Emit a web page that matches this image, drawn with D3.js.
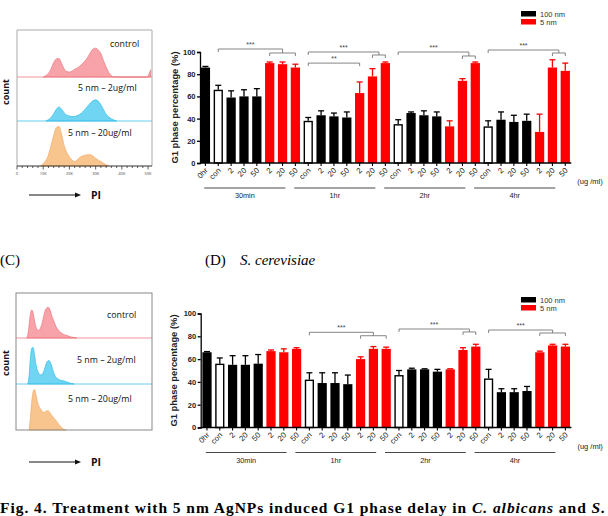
<!DOCTYPE html>
<html>
<head>
<meta charset="utf-8">
<script src="https://d3js.org/d3.v7.min.js"></script>
<style>
body { margin: 0; background: #fff; }
svg { display: block; }
.ax text { font-family: "Liberation Sans", Arial, sans-serif; }
</style>
</head>
<body>
<div id="fig"></div>
<script>

///////////////////////////////
//////  data  /////////////////
///////////////////////////////

// x tick labels for the 29 bars
var slotLabels = ["0hr",
  "con","2","20","50","2","20","50",
  "con","2","20","50","2","20","50",
  "con","2","20","50","2","20","50",
  "con","2","20","50","2","20","50"];
// kind of bar: z = 0hr, c = control (open), b = 100 nm, r = 5 nm
var slotKind = ["z",
  "c","b","b","b","r","r","r",
  "c","b","b","b","r","r","r",
  "c","b","b","b","r","r","r",
  "c","b","b","b","r","r","r"];
var groups = ["30min", "1hr", "2hr", "4hr"];
var groupFirst = [1, 8, 15, 22];
var groupLast = [7, 14, 21, 28];
var legendLabels = ["100 nm", "5 nm"];
var yTicks = [0, 20, 40, 60, 80, 100];

// (C) C. albicans, G1 phase %
var albMean = [86, 66,59,60,60, 90,89,86, 38,43,42,41, 63,78,90, 35,45,43,42, 33,74,90, 33,39,37,38, 28,86,83];
var albErr  = [1, 4,6,6,7, 1,2,3, 3,4,3,5, 10,7,1, 4,1,4,4, 5,2,1, 5,7,6,6, 16,7,7];
// (D) S. cerevisiae, G1 phase %
var cerMean = [66, 56,55,55,56, 67,66,69, 42,39,39,38, 60,69,69, 46,51,51,49, 51,68,71, 43,31,31,32, 66,72,71];
var cerErr  = [0.6, 5,8,8,8, 1,3,1, 6,9,9,8, 2,2,1.5, 4,1,0.5,2, 0.5,2,2, 8,3,3,4, 1,1,2];

// significance brackets: from bar, to sub-bracket bars a..b, levels in %
var albBrackets = [
  {from: 1, a: 5, b: 7, yBig: 102.7, ySmall: 99.1, label: "***"},
  {from: 8, a: 13, b: 14, yBig: 100, ySmall: 97.3, label: "***"},
  {from: 15, a: 20, b: 21, yBig: 100, ySmall: 96.4, label: "***"},
  {from: 22, a: 27, b: 28, yBig: 101.8, ySmall: 99.1, label: "***"}
];
var albSimple = [{from: 8, to: 12, y: 90, label: "**"}];
var cerBrackets = [
  {from: 8, a: 12, b: 14, yBig: 83.5, ySmall: 80.5, label: "***"},
  {from: 15, a: 20, b: 21, yBig: 86.4, ySmall: 83.8, label: "***"},
  {from: 22, a: 26, b: 28, yBig: 85.5, ySmall: 82.9, label: "***"}
];

// flow cytometry histograms, [PI (K), count]
var histLabels = ["control", "5 nm \u2013 2ug/ml", "5 nm \u2013 20ug/ml"];
var flowTicks = [0, 10, 20, 30, 40, 50];
var albControl = [[10,0],[11,3],[12,8],[13,18],[14,32],[15,40],[16,41],[17,30],[18,18],[19,12],[20,11],
  [21,13],[22,17],[23,20],[24,24],[25,30],[26,36],[27,44],[28,54],[29,62],[30,64],[31,60],[32,52],
  [33,36],[34,22],[35,10],[36,3],[37,0],[49.6,0],[50.3,6],[51,16]];
var alb2 = [[11,0],[12,3],[13,8],[14,16],[15,26],[16,31],[17,26],[18,18],[19,13],[20,11],[21,10],
  [22,10],[23,12],[24,15],[25,20],[26,26],[27,33],[28,40],[29,45],[30,47],[31,44],[32,36],[33,25],
  [34,15],[35,9],[36,5],[37,2],[38,0]];
var alb20 = [[9,0],[10,5],[11,12],[12,25],[13,45],[14,68],[15,85],[16,88],[17,70],[18,45],[19,30],
  [20,20],[21,13],[22,10],[23,14],[24,19],[25,22],[26,24],[27,25],[28,25],[29,22],[30,17],[31,13],
  [32,10],[33,6],[34,3],[35,0]];
var cerControl = [[4,0],[4.5,8],[5,30],[5.5,55],[6,62],[6.5,55],[7,38],[7.5,25],[8,19],[8.5,17],[9,19],
  [9.5,25],[10,35],[10.5,48],[11,60],[11.5,66],[12,68],[12.5,67],[13,60],[13.5,50],[14,42],[14.5,35],
  [15,27],[16,18],[17,12],[18,8],[19,6],[20,4],[21,2],[22,1],[23,0]];
var cer2 = [[4.5,0],[5,20],[5.5,60],[6,80],[6.5,81],[7,65],[7.5,45],[8,32],[8.5,25],[9,21],[9.5,20],
  [10,22],[10.5,28],[11,37],[11.5,46],[12,51],[12.5,52],[13,48],[13.5,40],[14,30],[14.5,22],[15,16],
  [16,11],[17,8],[18,7],[19,5],[20,3],[21,1],[22,0]];
var cer20 = [[5,0],[5.5,30],[6,65],[6.5,85],[7,90],[7.5,80],[8,65],[8.5,55],[9,49],[9.5,45],[10,41],
  [10.5,39],[11,40],[11.5,42],[12,43],[12.5,41],[13,37],[13.5,33],[14,29],[14.5,25],[15,22],[16,14],
  [17,7],[18,2],[19,0]];

///////////////////////////////
//////  setup  ////////////////
///////////////////////////////

var width = 608, height = 516;
var svg = d3.select("#fig").append("svg").attr("width", width).attr("height", height);
svg.append("rect").attr("width", width).attr("height", height).attr("fill", "#fff");

var sans = "'Liberation Sans', Arial, sans-serif";
var serif = "'Liberation Serif', 'Times New Roman', serif";
var flowFont = "'Open Sans', 'Noto Sans', sans-serif";
var red = "#ff0000";

///////////////////////////////
//////  bar charts  ///////////
///////////////////////////////

function barChart(opt) {
  var g = svg.append("g");
  var x = d3.scaleBand().domain(d3.range(slotLabels.length))
      .range(opt.xr).paddingInner(0.28).paddingOuter(0.14);
  var y = d3.scaleLinear().domain([0, 100]).range(opt.yr);
  var cx = i => x(i) + x.bandwidth() / 2;
  var y0 = y(0);

  // y axis
  var yAxis = g.append("g").attr("class", "ax")
      .attr("transform", "translate(" + opt.axisX + ",0)")
      .call(d3.axisLeft(y).tickValues(yTicks).tickSize(3).tickPadding(1.5));
  yAxis.select(".domain").attr("stroke-width", 1.3);
  yAxis.selectAll(".tick line").attr("stroke-width", 1.3);
  yAxis.selectAll("text").style("font-size", "7.5px").style("font-weight", "bold").attr("fill", "#222");

  g.append("text")
      .attr("transform", "translate(" + opt.labelX + "," + (y(50)) + ") rotate(-90)")
      .attr("text-anchor", "middle")
      .style("font-family", sans).style("font-size", "9.4px").style("font-weight", "bold")
      .attr("fill", "#222")
      .text("G1 phase percentage  (%)");

  // bars
  var data = opt.mean.map((m, i) => ({i: i, m: m, e: opt.err[i], k: slotKind[i]}));
  g.selectAll(".bar").data(data).enter().append("rect")
      .attr("class", "bar")
      .attr("x", d => x(d.i) + (d.k == "c" ? 0.7 : 0))
      .attr("width", d => x.bandwidth() - (d.k == "c" ? 1.4 : 0))
      .attr("y", d => y(d.m) + (d.k == "c" ? 0.7 : 0))
      .attr("height", d => y0 - y(d.m) - (d.k == "c" ? 0.7 : 0))
      .attr("fill", d => d.k == "r" ? red : (d.k == "c" ? "#fff" : "#000"))
      .attr("stroke", d => d.k == "c" ? "#000" : "none")
      .attr("stroke-width", 1.4);

  // error bars
  var eb = g.selectAll(".err").data(data).enter().append("g")
      .attr("stroke", d => d.k == "r" ? red : "#000").attr("stroke-width", 1.3);
  eb.append("line")
      .attr("x1", d => cx(d.i)).attr("x2", d => cx(d.i))
      .attr("y1", d => y(d.m)).attr("y2", d => y(d.m + d.e));
  eb.append("line")
      .attr("x1", d => cx(d.i) - 3).attr("x2", d => cx(d.i) + 3)
      .attr("y1", d => y(d.m + d.e)).attr("y2", d => y(d.m + d.e));

  // x axis
  g.append("line").attr("x1", opt.axisX).attr("x2", cx(slotLabels.length - 1) + 6)
      .attr("y1", y0).attr("y2", y0).attr("stroke", "#000").attr("stroke-width", 1.3);
  g.selectAll(".xt").data(slotLabels).enter().append("line")
      .attr("x1", (d, i) => cx(i)).attr("x2", (d, i) => cx(i))
      .attr("y1", y0).attr("y2", y0 + 3).attr("stroke", "#000").attr("stroke-width", 1.1);
  g.selectAll(".xl").data(slotLabels).enter().append("text")
      .attr("transform", (d, i) => "translate(" + (cx(i) + 3) + "," + (y0 + 8) + ") rotate(-45)")
      .attr("text-anchor", "end")
      .style("font-family", sans).style("font-size", "7.8px").attr("fill", "#222")
      .text(d => d);
  g.append("text").attr("x", cx(slotLabels.length - 1) + 12).attr("y", y0 + 21)
      .style("font-family", sans).style("font-size", "7.5px").attr("fill", "#222")
      .text("(ug /ml)");

  // time groups
  groups.forEach(function(name, j) {
    var x1 = cx(groupFirst[j]) - 14, x2 = cx(groupLast[j]) - 10;
    g.append("line").attr("x1", x1).attr("x2", x2).attr("y1", y0 + 25).attr("y2", y0 + 25)
        .attr("stroke", "#333").attr("stroke-width", 0.9);
    g.append("text").attr("x", (x1 + x2) / 2).attr("y", y0 + 35).attr("text-anchor", "middle")
        .style("font-family", sans).style("font-size", "7.3px").attr("fill", "#222").text(name);
  });

  // significance brackets
  var bs = g.append("g").attr("stroke", "#666").attr("stroke-width", 0.8).attr("fill", "none");
  opt.brackets.forEach(function(b) {
    var xl = cx(b.from), xm = (cx(b.a) + cx(b.b)) / 2, yb = y(b.yBig), ys = y(b.ySmall);
    bs.append("path").attr("d", "M" + xl + "," + (yb + 3) + "V" + yb + "H" + xm + "V" + ys);
    bs.append("path").attr("d", "M" + cx(b.a) + "," + (ys + 3) + "V" + ys + "H" + cx(b.b) + "V" + (ys + 3));
    g.append("text").attr("x", (xl + xm) / 2).attr("y", yb - 2).attr("text-anchor", "middle")
        .style("font-family", sans).style("font-size", "7px").attr("fill", "#444").text(b.label);
  });
  opt.simple.forEach(function(b) {
    var yb = y(b.y);
    bs.append("path").attr("d", "M" + cx(b.from) + "," + (yb + 3) + "V" + yb + "H" + cx(b.to) + "V" + (yb + 3));
    g.append("text").attr("x", (cx(b.from) + cx(b.to)) / 2).attr("y", yb - 2).attr("text-anchor", "middle")
        .style("font-family", sans).style("font-size", "7px").attr("fill", "#444").text(b.label);
  });

  // legend
  var lg = g.append("g").attr("transform", "translate(521," + opt.legendY + ")");
  legendLabels.forEach(function(t, k) {
    lg.append("rect").attr("x", 0).attr("y", k * 8).attr("width", 15).attr("height", 5.5)
        .attr("fill", k == 0 ? "#000" : red);
    lg.append("text").attr("x", 19).attr("y", k * 8 + 5.5)
        .style("font-family", sans).style("font-size", "7.5px").attr("fill", "#333").text(t);
  });
}

barChart({xr: [199, 571.7], yr: [163, 52], axisX: 200, labelX: 178, legendY: 11,
  mean: albMean, err: albErr, brackets: albBrackets, simple: albSimple});
barChart({xr: [200.6, 571.8], yr: [427.5, 313.5], axisX: 200.7, labelX: 177, legendY: 297,
  mean: cerMean, err: cerErr, brackets: cerBrackets, simple: []});

///////////////////////////////
//////  flow histograms  //////
///////////////////////////////

var histFill = ["#f7a3a9", "#6fd5f3", "#f9c58f"];
var histLine = ["#ee7c84", "#3fc0e8", "#f4ad6a"];

function flowPanel(opt) {
  var g = svg.append("g");
  var x = d3.scaleLinear().domain([0, 51.5]).range([opt.left, 152]);
  opt.sets.forEach(function(set, k) {
    var base = opt.bases[k];
    var y = d3.scaleLinear().domain([0, 100]).range([base, base - 45]);
    var area = d3.area().x(d => x(d[0])).y0(base).y1(d => y(d[1])).curve(d3.curveMonotoneX);
    g.append("path").datum(set).attr("d", area)
        .attr("fill", histFill[k]).attr("stroke", histLine[k]).attr("stroke-width", 0.8);
    if (k < 2) {
      g.append("line").attr("x1", opt.left).attr("x2", 152).attr("y1", base).attr("y2", base)
          .attr("stroke", histLine[k]).attr("stroke-width", 0.8);
    }
    g.append("text").attr("x", opt.labelX[k]).attr("y", opt.labelY[k])
        .style("font-family", flowFont).style("font-size", "8.8px").attr("fill", "#111")
        .text(histLabels[k]);
  });
  if (opt.axis) {
    g.append("path").attr("d", "M" + opt.left + "," + opt.bases[2] + "V" + opt.top + "H152V" + opt.bases[2])
        .attr("fill", "none").attr("stroke", "#aaa").attr("stroke-width", 1);
    g.append("line").attr("x1", opt.left).attr("x2", 152).attr("y1", opt.bases[2]).attr("y2", opt.bases[2])
        .attr("stroke", "#333").attr("stroke-width", 1);
    g.selectAll(".mt").data(d3.range(0, 51, 2)).enter().append("line")
        .attr("x1", d => x(d)).attr("x2", d => x(d))
        .attr("y1", opt.bases[2]).attr("y2", d => opt.bases[2] + (d % 10 == 0 ? 3.5 : 2))
        .attr("stroke", "#333").attr("stroke-width", 0.8);
    g.selectAll(".ml").data(flowTicks).enter().append("text")
        .attr("x", d => x(d)).attr("y", opt.bases[2] + 9).attr("text-anchor", "middle")
        .style("font-family", flowFont).style("font-size", "4px").attr("fill", "#444")
        .text(d => d == 0 ? "0" : d + "K");
  } else {
    g.append("rect").attr("x", opt.left).attr("y", opt.top).attr("width", 152 - opt.left)
        .attr("height", opt.bases[2] - opt.top).attr("fill", "none").attr("stroke", "#888");
  }
  g.append("text").attr("transform", "translate(8.5," + opt.countY + ") rotate(-90)")
      .attr("text-anchor", "middle")
      .style("font-family", flowFont).style("font-size", "9px").style("font-weight", "bold")
      .attr("fill", "#111").text("count");
  g.append("line").attr("x1", 29).attr("x2", 76).attr("y1", opt.arrowY).attr("y2", opt.arrowY)
      .attr("stroke", "#111").attr("stroke-width", 1.2);
  g.append("path").attr("d", "M81," + opt.arrowY + "l-6,-2.5v5z").attr("fill", "#111");
  g.append("text").attr("x", 91).attr("y", opt.arrowY + 4)
      .style("font-family", flowFont).style("font-size", "10.5px").style("font-weight", "bold")
      .attr("fill", "#111").text("PI");
}

flowPanel({left: 17, top: 30, bases: [77, 121, 166], sets: [albControl, alb2, alb20], axis: true,
  labelX: [110, 78, 68], labelY: [47, 91, 136], countY: 92, arrowY: 195});
flowPanel({left: 16, top: 293, bases: [338, 384, 430], sets: [cerControl, cer2, cer20], axis: false,
  labelX: [107, 77, 68], labelY: [318, 363, 402], countY: 363, arrowY: 462});

///////////////////////////////
//////  panel captions  ///////
///////////////////////////////

svg.append("text").attr("x", 0).attr("y", 265)
    .style("font-family", serif).style("font-size", "15px").attr("fill", "#000").text("(C)");
var dl = svg.append("text").attr("x", 205).attr("y", 265)
    .style("font-family", serif).style("font-size", "15px").attr("fill", "#000");
dl.append("tspan").text("(D)");
dl.append("tspan").attr("x", 240).style("font-style", "italic").text("S. cerevisiae");

var cap = svg.append("text").attr("x", 0).attr("y", 513)
    .attr("textLength", 605).attr("lengthAdjust", "spacing")
    .style("font-family", serif).style("font-size", "15.5px").style("font-weight", "bold").attr("fill", "#000");
cap.append("tspan").text("Fig. 4. Treatment with 5 nm AgNPs induced G1 phase delay in ");
cap.append("tspan").style("font-style", "italic").text("C. albicans");
cap.append("tspan").text(" and ");
cap.append("tspan").style("font-style", "italic").text("S.");

</script>
</body>
</html>
